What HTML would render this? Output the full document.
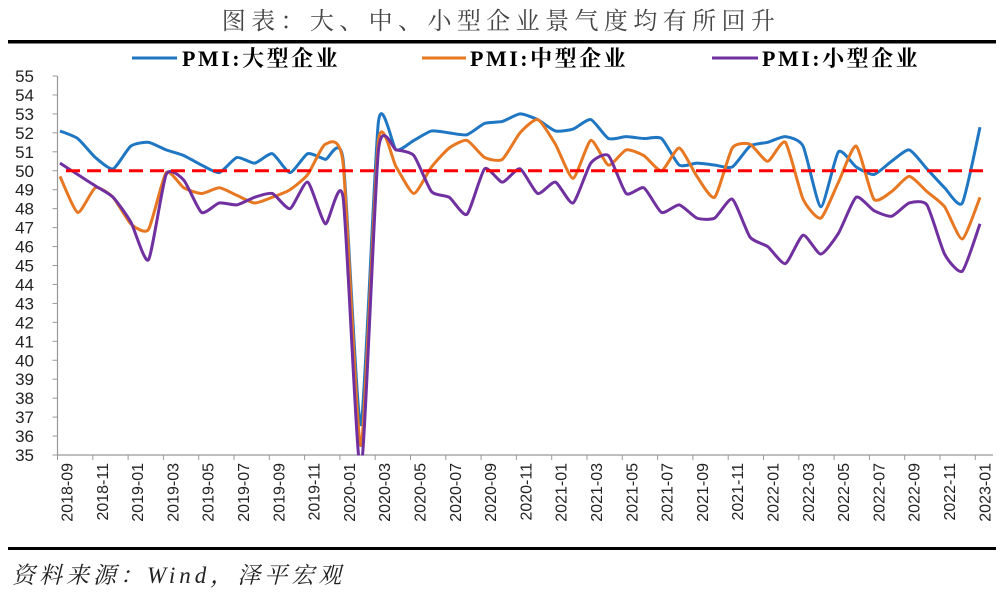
<!DOCTYPE html>
<html><head><meta charset="utf-8">
<style>
body{margin:0;background:#fff;width:1000px;height:595px;overflow:hidden;}
svg{display:block;}
</style></head>
<body>
<svg id="chart" width="1000" height="595" xmlns="http://www.w3.org/2000/svg">
<defs><clipPath id="plotclip"><rect x="57" y="70" width="940" height="385.5"/></clipPath></defs>
<text x="501" y="29" text-anchor="middle" font-family="'Liberation Serif','Noto Serif CJK SC',serif" font-size="24" letter-spacing="5.4" fill="#444">图表：大、中、小型企业景气度均有所回升</text>
<rect x="8" y="40" width="988" height="3.5" fill="#000"/>
<rect x="8" y="547" width="988" height="3" fill="#000"/>
<text x="12" y="583" font-family="'Liberation Serif','Noto Serif CJK SC',serif" font-style="italic" font-size="23" letter-spacing="4" fill="#222">资料来源：Wind，泽平宏观</text>
<g id="legend" font-family="'Liberation Serif','Noto Serif CJK SC',serif" font-weight="bold" font-size="22" letter-spacing="2.5" fill="#000">
 <g><line x1="132" y1="58" x2="177" y2="58" stroke="#1f77c4" stroke-width="3"/><text x="182" y="66">PMI:大型企业</text></g>
 <g><line x1="422" y1="58" x2="466" y2="58" stroke="#e87722" stroke-width="3"/><text x="470" y="66">PMI:中型企业</text></g>
 <g><line x1="712" y1="58" x2="758" y2="58" stroke="#7030a0" stroke-width="3"/><text x="762" y="66">PMI:小型企业</text></g>
</g>
<g id="axes"></g>
<g id="series" clip-path="url(#plotclip)"></g>
</svg>
<script>
const months = [];
(function(){let y=2018,m=9;for(let i=0;i<53;i++){months.push(y+'-'+String(m).padStart(2,'0'));m++;if(m>12){m=1;y++;}}})();
const largePMI = [52.1,51.7,50.7,50.1, 51.3,51.5,51.1,50.8,50.3,49.9,50.7,50.4,50.9,49.9,50.9,50.6, 50.6,36.6,52.6,51.1,51.6,52.1,52.0,51.9,52.5,52.6,53.0,52.7, 52.1,52.2,52.7,51.7,51.8,51.7,51.7,50.3,50.4,50.3,50.2,51.3, 51.5,51.8,51.3,48.1,51.0,50.2,49.8,50.5,51.1,50.1,49.1,48.3, 52.3];
const mediumPMI = [49.7,47.8,49.1,48.6, 47.2,46.9,49.9,49.1,48.8,49.1,48.7,48.3,48.6,49.0,49.8,51.4, 50.4,35.5,51.6,50.2,48.8,50.2,51.2,51.6,50.7,50.6,52.0,52.7, 51.4,49.6,51.6,50.3,51.1,50.8,50.0,51.2,49.7,48.6,51.2,51.4, 50.5,51.5,48.5,47.5,49.4,51.3,48.5,48.9,49.7,48.9,48.1,46.4, 48.6];
const smallPMI = [50.4,49.8,49.2,48.6, 47.3,45.3,49.8,49.5,47.8,48.3,48.2,48.6,48.8,48.0,49.4,47.2, 48.6,34.1,51.1,51.1,50.8,48.9,48.6,47.7,50.1,49.4,50.1,48.8, 49.4,48.3,50.4,50.8,48.8,49.1,47.8,48.2,47.5,47.5,48.5,46.5, 46.0,45.1,46.6,45.6,46.7,48.6,47.9,47.6,48.3,48.2,45.6,44.7, 47.2];
const yTicks = [35,36,37,38,39,40,41,42,43,44,45,46,47,48,49,50,51,52,53,54,55];
const threshold = 50;

const NS='http://www.w3.org/2000/svg';
const X0=57.5, PW=17.65, Y55=76, Y35=455;
const xTick=i=>X0+i*PW;
const xPt=i=>60+i*(920/(months.length-1));
const yS=v=>Y35-(v-35)*(Y35-Y55)/20;
function mk(t,a,p){const e=document.createElementNS(NS,t);for(const k in a)e.setAttribute(k,a[k]);p.appendChild(e);return e;}
const ax=document.getElementById('axes');
const yAxis=mk('line',{x1:X0,y1:Y55,x2:X0,y2:Y35,stroke:'#999','stroke-width':1.2},ax);


const xAxis=mk('line',{x1:X0,y1:Y35,x2:X0+months.length*PW,y2:Y35,stroke:'#999','stroke-width':1.2},ax);


yTicks.forEach(v=>{
  mk('line',{x1:X0-5,y1:yS(v),x2:X0,y2:yS(v),stroke:'#999'},ax);
  const t=mk('text',{x:34,y:yS(v)+6,'text-anchor':'end','font-family':"'Liberation Sans',sans-serif",'font-size':17,fill:'#222'},ax);
  t.textContent=v;
  
  
});
for(let i=0;i<=months.length;i+=2){
  mk('line',{x1:xTick(i),y1:Y35,x2:xTick(i),y2:Y35+5,stroke:'#999'},ax);
}
months.forEach((m,i)=>{
  if(i%2) return;
  const cx=xTick(i)+PW/2+2, cy=463;
  const t=mk('text',{x:cx,y:cy,'text-anchor':'end','font-family':"'Liberation Sans',sans-serif",'font-size':16,fill:'#222',transform:`rotate(-90 ${cx} ${cy})`},ax);
  t.setAttribute('dominant-baseline','middle');
  t.textContent=m;
  
  
});
const sg=document.getElementById('series');
function smooth(vals){
  const p=vals.map((v,i)=>[xPt(i),yS(v)]);
  let d='M'+p[0][0]+','+p[0][1];
  const t=0.3/3;
  for(let i=0;i<p.length-1;i++){
    const p0=p[i-1]||p[i],p1=p[i],p2=p[i+1],p3=p[i+2]||p2;
    d+=` C${p1[0]+(p2[0]-p0[0])*t},${p1[1]+(p2[1]-p0[1])*t} ${p2[0]-(p3[0]-p1[0])*t},${p2[1]-(p3[1]-p1[1])*t} ${p2[0]},${p2[1]}`;
  }
  return d;
}
const th=mk('line',{x1:xPt(0)+6,y1:yS(threshold),x2:xPt(months.length-1)+4,y2:yS(threshold),stroke:'#ff0000','stroke-width':3,'stroke-dasharray':'14,7'},sg);


const large=mk('path',{d:smooth(largePMI),fill:'none',stroke:'#1f77c4','stroke-width':3},sg);


const med=mk('path',{d:smooth(mediumPMI),fill:'none',stroke:'#e87722','stroke-width':3},sg);


const sm=mk('path',{d:smooth(smallPMI),fill:'none',stroke:'#7030a0','stroke-width':3},sg);


sg.appendChild(th);
</script>
</body></html>
